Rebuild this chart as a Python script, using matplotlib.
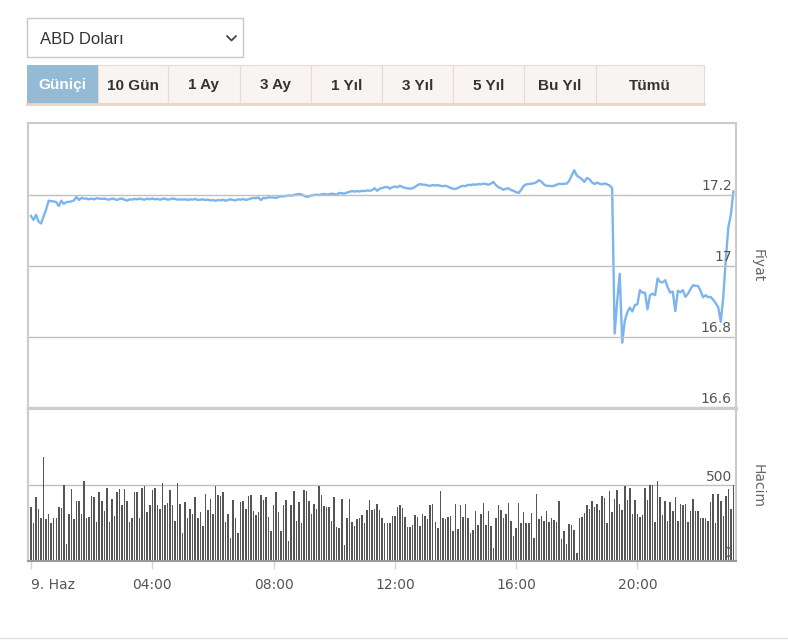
import matplotlib.pyplot as plt
from matplotlib.patches import Rectangle
from matplotlib.transforms import blended_transform_factory

# 5 dakikalik fiyat (Fiyat) ve hacim (Hacim) verileri, 9 Haziran 00:00'dan itibaren
price = [
    17.141, 17.13, 17.144, 17.125, 17.12, 17.14, 17.16, 17.184, 17.183, 17.182, 17.18, 17.169,
    17.184, 17.175, 17.18, 17.181, 17.182, 17.185, 17.195, 17.186, 17.192, 17.19, 17.19, 17.188,
    17.19, 17.188, 17.191, 17.19, 17.189, 17.19, 17.188, 17.187, 17.19, 17.189, 17.186, 17.189,
    17.19, 17.187, 17.184, 17.188, 17.187, 17.189, 17.188, 17.19, 17.188, 17.187, 17.19, 17.188,
    17.19, 17.188, 17.189, 17.187, 17.189, 17.19, 17.187, 17.188, 17.19, 17.189, 17.187, 17.188,
    17.187, 17.188, 17.186, 17.188, 17.187, 17.189, 17.186, 17.187, 17.188, 17.186, 17.187, 17.185,
    17.186, 17.184, 17.186, 17.185, 17.187, 17.184, 17.186, 17.188, 17.186, 17.185, 17.188, 17.187,
    17.189, 17.186, 17.188, 17.19, 17.192, 17.191, 17.193, 17.186, 17.192, 17.191, 17.194, 17.193,
    17.193, 17.192, 17.195, 17.197, 17.196, 17.198, 17.199, 17.198, 17.2, 17.202, 17.203, 17.202,
    17.198, 17.195, 17.196, 17.199, 17.2, 17.201, 17.2, 17.202, 17.203, 17.201, 17.202, 17.204,
    17.203, 17.201, 17.206, 17.205, 17.204, 17.207, 17.209, 17.211, 17.21, 17.211, 17.21, 17.212,
    17.211, 17.213, 17.212, 17.214, 17.219, 17.212, 17.218, 17.22, 17.222, 17.223, 17.218, 17.222,
    17.224, 17.222, 17.226, 17.223, 17.22, 17.219, 17.218, 17.219, 17.223, 17.228, 17.231, 17.229,
    17.229, 17.227, 17.226, 17.228, 17.227, 17.228, 17.226, 17.225, 17.226, 17.224, 17.22, 17.218,
    17.217, 17.22, 17.224, 17.226, 17.225, 17.229, 17.228, 17.23, 17.229, 17.231, 17.23, 17.232,
    17.231, 17.229, 17.232, 17.237, 17.228, 17.222, 17.219, 17.215, 17.218, 17.219, 17.214, 17.212,
    17.208, 17.206, 17.215, 17.226, 17.23, 17.231, 17.232, 17.233, 17.236, 17.242, 17.238, 17.23,
    17.226, 17.226, 17.225, 17.226, 17.229, 17.232, 17.231, 17.232, 17.232, 17.24, 17.255, 17.27,
    17.255, 17.25, 17.245, 17.237, 17.248, 17.245, 17.236, 17.231, 17.235, 17.232, 17.23, 17.233,
    17.23, 17.227, 17.22, 16.81, 16.9, 16.978, 16.784, 16.845, 16.87, 16.883, 16.872, 16.89,
    16.892, 16.932, 16.925, 16.925, 16.878, 16.918, 16.922, 16.918, 16.965, 16.955, 16.954, 16.96,
    16.94, 16.925, 16.928, 16.873, 16.93, 16.926, 16.932, 16.913, 16.922, 16.935, 16.946, 16.944,
    16.944, 16.93, 16.912, 16.918, 16.912, 16.913, 16.905, 16.895, 16.884, 16.843, 16.914, 17.02,
    17.11, 17.145, 17.21,
]

volume = [
    354, 247, 419, 345, 280, 681, 273, 312, 247, 284, 280, 354,
    347, 500, 109, 312, 476, 273, 395, 395, 312, 526, 282, 288,
    426, 419, 258, 452, 395, 332, 483, 255, 410, 297, 452, 476,
    367, 476, 395, 258, 280, 452, 452, 280, 483, 493, 321, 369,
    469, 483, 369, 345, 515, 369, 382, 465, 369, 264, 515, 378,
    186, 386, 280, 345, 312, 419, 280, 321, 229, 441, 336, 410,
    312, 493, 434, 428, 452, 258, 312, 148, 404, 284, 181, 386,
    395, 345, 428, 437, 330, 303, 321, 434, 404, 419, 288, 199,
    365, 452, 321, 199, 365, 404, 133, 365, 463, 264, 386, 247,
    469, 461, 395, 306, 378, 345, 491, 437, 360, 356, 352, 264,
    419, 223, 214, 410, 107, 280, 410, 255, 229, 273, 280, 303,
    247, 338, 404, 338, 345, 378, 338, 280, 247, 247, 247, 297,
    297, 356, 371, 347, 290, 223, 223, 240, 303, 290, 231, 306,
    295, 273, 365, 378, 255, 216, 461, 282, 277, 288, 299, 199,
    378, 212, 365, 290, 378, 280, 181, 207, 332, 240, 312, 384,
    240, 330, 227, 83, 280, 371, 338, 282, 310, 384, 264, 166,
    220, 384, 251, 321, 247, 247, 317, 148, 443, 273, 297, 264,
    327, 258, 280, 269, 255, 397, 142, 199, 109, 245, 240, 207,
    55, 280, 288, 317, 369, 345, 397, 356, 378, 338, 426, 417,
    247, 461, 321, 408, 467, 378, 338, 496, 404, 483, 306, 404,
    306, 288, 303, 483, 404, 500, 500, 255, 526, 419, 303, 395,
    264, 386, 330, 419, 264, 378, 365, 378, 255, 330, 408, 330,
    330, 286, 286, 282, 262, 386, 441, 253, 441, 395, 297, 426,
    474, 345, 500,
]

hours = [i * 5 / 60 for i in range(len(price))]

tabs = ['Güniçi', '10 Gün', '1 Ay', '3 Ay', '1 Yıl', '3 Yıl', '5 Yıl', 'Bu Yıl', 'Tümü']
tab_edges = [27, 98, 168, 240, 311, 382, 453, 524, 596, 704]
price_ticks = [16.6, 16.8, 17, 17.2]
vol_ticks = [0, 500]
x_ticks = [0, 4, 8, 12, 16, 20]
x_labels = ['9. Haz', '04:00', '08:00', '12:00', '16:00', '20:00']

W, H = 788, 643
fig = plt.figure(figsize=(W / 100, H / 100), dpi=100, facecolor='white')


def box(x0, y0, x1, y1):
    # piksel koordinatlari (ust-sol) -> figure oranlari
    return [x0 / W, 1 - y1 / H, (x1 - x0) / W, (y1 - y0) / H]


# ust kisim: secim kutusu ve sekmeler
ui = fig.add_axes([0, 0, 1, 1], zorder=0)
ui.set_xlim(0, W)
ui.set_ylim(H, 0)
ui.axis('off')

ui.add_patch(Rectangle((27, 18), 216, 39, facecolor='white', edgecolor='#c8c8c8', lw=1))
fig.text(40 / W, 1 - 43.5 / H, 'ABD Doları', fontsize=12, color='#333333',
         va='baseline', family='Liberation Sans')
ui.plot([227, 231.5, 236], [36, 40.5, 36], color='#444444', lw=1.3, solid_capstyle='round')

for k, name in enumerate(tabs):
    x0, x1 = tab_edges[k], tab_edges[k + 1]
    if k == 0:
        ui.add_patch(Rectangle((x0, 65), x1 - x0, 39, facecolor='#94bad5', edgecolor='none'))
        col = 'white'
    else:
        ui.add_patch(Rectangle((x0, 65), x1 - x0, 39, facecolor='#f8f4f2',
                               edgecolor='#e6dcd6', lw=0.8))
        col = '#333333'
    fig.text((x0 + x1) / 2 / W, 1 - 89.5 / H, name, fontsize=11, fontweight='bold',
             color=col, ha='center', va='baseline', family='Liberation Sans')
ui.plot([27, 704], [104, 104], color='#f0d2bd', lw=2)
ui.plot([0, W], [638, 638], color='#e2e2e2', lw=1)

# fiyat paneli
ax = fig.add_axes(box(28, 123, 736, 408), zorder=2)
ax.plot(hours, price, color='#7cb5ec', lw=1.7)
ax.set_xlim(-3 / 30.32, 705 / 30.32)
ax.set_ylim(16.6, 17.403)
ax.set_xticks([])
ax.set_yticks([])
for v in price_ticks[1:]:
    ax.axhline(v, color='#c0c0c0', lw=1)
trans = blended_transform_factory(ax.transAxes, ax.transData)
for v in price_ticks:
    ax.text(0.994, v + 0.006, f'{v:g}', transform=trans, ha='right', va='bottom',
            fontsize=10, color='#555555')
for s in ax.spines.values():
    s.set_color('#cccccc')
    s.set_linewidth(1.5)
ax.spines['bottom'].set_linewidth(2.5)
ax.text(1.03, 0.5, 'Fiyat', transform=ax.transAxes, rotation=270, ha='center',
        va='center', fontsize=10, color='#666666')

# hacim paneli
axv = fig.add_axes(box(28, 410, 736, 561), zorder=2)
axv.bar(hours, volume, width=5 / 60 * 0.6, color='#555555', linewidth=0,
        align='center')
axv.set_xlim(-3 / 30.32, 705 / 30.32)
axv.set_ylim(0, 993)
axv.set_yticks([])
axv.axhline(500, color='#c0c0c0', lw=1, zorder=0)
trans_v = blended_transform_factory(axv.transAxes, axv.transData)
for v in vol_ticks:
    axv.text(0.994, v + 8, str(v), transform=trans_v, ha='right', va='bottom',
             fontsize=10, color='#555555')
axv.set_xticks(x_ticks)
axv.set_xticklabels(x_labels)
axv.tick_params(axis='x', direction='out', length=6, width=1, color='#ccd6eb',
                labelsize=10, labelcolor='#555555', pad=6)
axv.get_xticklabels()[0].set_ha('left')
for s in axv.spines.values():
    s.set_color('#cccccc')
    s.set_linewidth(1.5)
axv.spines['top'].set_visible(False)
axv.spines['bottom'].set_color('#999999')
axv.text(1.03, 0.5, 'Hacim', transform=axv.transAxes, rotation=270, ha='center',
         va='center', fontsize=10, color='#666666')

fig.savefig('out.png', dpi=100, facecolor='white')
